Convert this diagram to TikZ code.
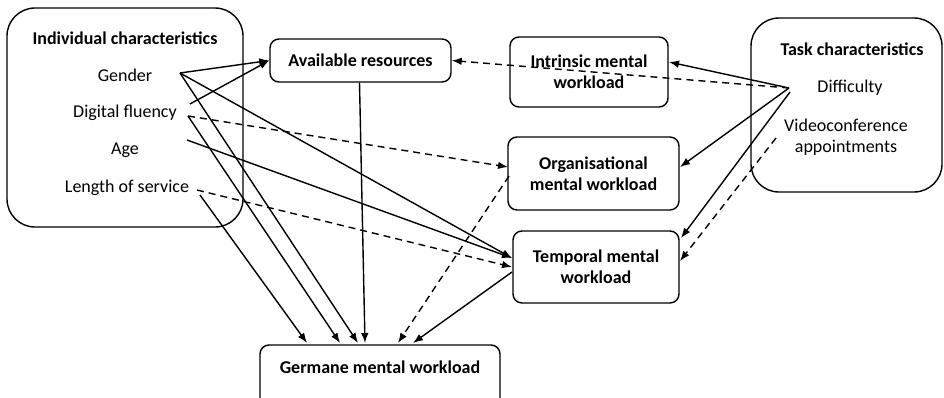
\documentclass[tikz,border=0pt]{standalone}
\usepackage{fontspec}
\setmainfont{Carlito}
\usetikzlibrary{arrows.meta}
\begin{document}
\begin{tikzpicture}[x=1pt,y=-1pt,
  line width=1.4pt,
  bigbox/.style={draw,rounded corners=28pt},
  smallbox/.style={draw,rounded corners=9pt},
  boxlabel/.style={font=\bfseries\fontsize{18}{21}\selectfont,align=center},
  itemlabel/.style={font=\fontsize{18}{21}\selectfont,align=center},
  arr/.style={-{Latex[length=10pt,width=7.5pt]}},
  darr/.style={arr,dash pattern=on 7pt off 5pt}]
\useasboundingbox (0,0) rectangle (944,397);

% group boxes
\draw[bigbox] (7,8) rectangle (243,227);
\draw[bigbox] (751,18) rectangle (942,192);

% group titles and items
\node[boxlabel] (indiv) at (125,38) {Individual characteristics};
\node[itemlabel] (gender) at (125,75) {Gender};
\node[itemlabel] (digital) at (125,113) {Digital fluency};
\node[itemlabel] (age) at (125,150) {Age};
\node[itemlabel] (service) at (127,188) {Length of service};
\node[boxlabel] (task) at (852,49) {Task characteristics};
\node[itemlabel] (difficulty) at (850,88) {Difficulty};
\node[itemlabel] (video) at (846,137) {Videoconference\\[0pt]appointments};

% workload boxes
\node[smallbox,boxlabel,minimum width=181pt,minimum height=43pt] (avail) at (360.5,60.5) {Available resources};
\node[smallbox,boxlabel,minimum width=158pt,minimum height=70pt] (intr) at (589,72) {Intrinsic mental\\[0pt]workload};
\node[smallbox,boxlabel,minimum width=171pt,minimum height=73pt] (org) at (593.5,173.5) {Organisational\\[0pt]mental workload};
\node[smallbox,boxlabel,minimum width=166pt,minimum height=72pt] (temp) at (596,267) {Temporal mental\\[0pt]workload};
\draw[smallbox] (260,345) rectangle (500,410);
\node[boxlabel] (germ) at (380,367) {Germane mental workload};

% connector end points
\coordinate (gA) at (180,73);
\coordinate (dA) at (190,104);
\coordinate (dB) at (188,116);
\coordinate (aA) at (187,140);
\coordinate (sA) at (197,190);
\coordinate (sB) at (200,195);
\coordinate (fA) at (789,88);
\coordinate (fB) at (790,92);
\coordinate (vA) at (776,138);

% individual characteristics
\draw[arr] (gA) -- (avail.west);
\draw[arr] (dA) -- (avail.west);
\draw[arr] (gA) -- (512,258);
\draw[arr] (aA) -- (512,258);
\draw[arr] (gA) -- (358,343);
\draw[arr] (dB) -- (340,343);
\draw[arr] (sB) -- (307,343);
\draw[darr] (dB) -- (508,167);
\draw[darr] (sA) -- (512,267);

% workload paths
\draw[arr] (avail.south) ++(-1,0) -- (365,343);
\draw[darr] (509,176) -- (398,343);
\draw[arr] (512,272) -- (413,343);

% task characteristics
\draw[darr] (fA) -- (avail.east);
\draw[arr] (fA) -- (669,62);
\draw[arr] (fA) -- (680,167);
\draw[arr] (fB) -- (681,238);
\draw[darr] (vA) -- (680,261);
\end{tikzpicture}
\end{document}
